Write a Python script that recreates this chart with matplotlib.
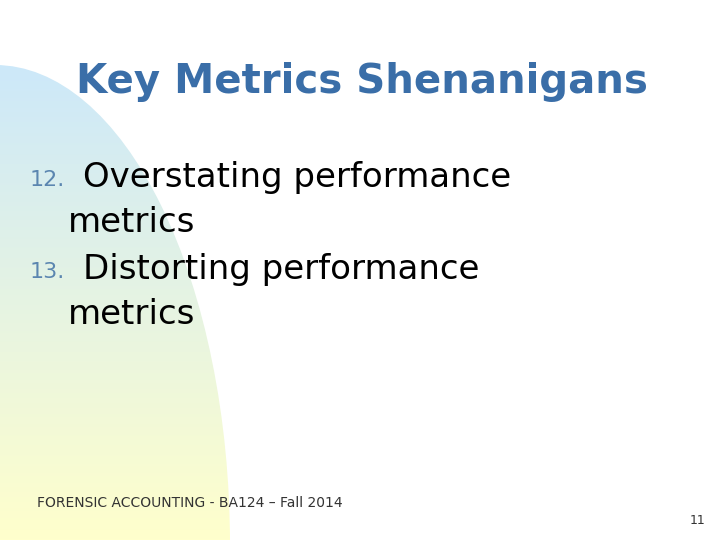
import numpy as np
import matplotlib
matplotlib.use("Agg")
import matplotlib.pyplot as plt
from matplotlib.patches import Ellipse

title = "Key Metrics Shenanigans"
item_numbers = ["12.", "13."]
item_lines = [["Overstating performance", "metrics"], ["Distorting performance", "metrics"]]
footer = "FORENSIC ACCOUNTING - BA124 – Fall 2014"
page = "11"

fig = plt.figure(figsize=(7.2, 5.4), dpi=100)
ax = fig.add_axes([0, 0, 1, 1])
ax.set_xlim(0, 720)
ax.set_ylim(540, 0)
ax.axis("off")

grad = np.linspace(0, 1, 256)[:, None]
top = np.array([0.80, 0.91, 0.98])
bot = np.array([1.0, 1.0, 0.80])
img = (1 - grad)[..., None] * top + grad[..., None] * bot
img = np.repeat(img, 2, axis=1)
im = ax.imshow(img, extent=[0, 240, 540, 60], aspect="auto", zorder=1)
ell = Ellipse((-5, 545), width=2 * 235, height=2 * 480, transform=ax.transData,
              facecolor="none", edgecolor="none")
ax.add_patch(ell)
im.set_clip_path(ell)
ax.set_xlim(0, 720)
ax.set_ylim(540, 0)

ax.text(362, 82, title, fontsize=29, fontweight="bold", color="#3a6ea8",
        ha="center", va="center", zorder=3)

y = 178
for num, lines in zip(item_numbers, item_lines):
    ax.text(30, y + 2, num, fontsize=16, color="#5b86b0", ha="left", va="center", zorder=3)
    ax.text(83, y, lines[0], fontsize=24.5, color="black", ha="left", va="center", zorder=3)
    ax.text(68, y + 45, lines[1], fontsize=24.5, color="black", ha="left", va="center", zorder=3)
    y += 92

ax.text(37, 503, footer, fontsize=10, color="#333333", ha="left", va="center", zorder=3)
ax.text(705, 520, page, fontsize=9, color="#333333", ha="right", va="center", zorder=3)

fig.savefig("out.png", dpi=100)
